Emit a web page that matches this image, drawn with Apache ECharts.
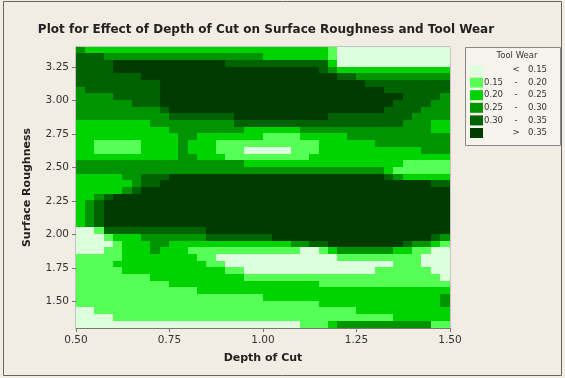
<!DOCTYPE html>
<html>
<head>
<meta charset="utf-8">
<script src="https://cdn.jsdelivr.net/npm/echarts@6/dist/echarts.min.js"></script>
<style>
  html, body { margin: 0; padding: 0; background: #f1ede4; }
  #chart { width: 565px; height: 378px; }
</style>
</head>
<body>
<div id="chart"></div>
<script>
// axis ticks
const depthTicks = [0.5, 0.75, 1.0, 1.25, 1.5]
const roughnessTicks = [1.5, 1.75, 2.0, 2.25, 2.5, 2.75, 3.0, 3.25]

// contour bands (legend)
const wearLow = ['', '0.15', '0.20', '0.25', '0.30', '']
const wearSep = ['<', '-', '-', '-', '-', '>']
const wearHigh = ['0.15', '0.20', '0.25', '0.30', '0.35', '0.35']
const wearColors = ['#ddffdd', '#55ff55', '#00d400', '#009400', '#006200', '#003c00']

// sampling grid of the contour map
const depthStart = 0.5
const depthStep = 0.025
const roughStart = 1.3
const roughStep = 0.05

// band index per cell; top row (3.35-3.40) first, depth 0.50 -> 1.50
const wearRows = [
  '3 22222222222222222222222222 1 000000000000',
  '444 33333333333333333 2222222 1 000000000000',
  '4444 555555555555 44444444444 2 000000000000',
  '4444 5555555555555555555555 4 3 222222222222',
  '4444444 555555555555555555555 44 3333333333',
  '444444444 5555555555555555555555 444444444',
  '3 44444444 555555555555555555555555 4444444',
  '3333 44444 55555555555555555555555555 4444 3',
  '333333 444 5555555555555555555555555 4444 33',
  '333333333 4 55555555555555555555555 4444 333',
  '3333333333 4444444 5555555555 444444444 3333',
  '22222222 333333333 444444444444444444 333 22',
  '2222222222 33333333 222222 33333333333333 22',
  '22222222222 33 2222222 1111 22222 33333333333',
  '22 11111 2222 3 222 11111111111 222222 33333333',
  '22 11111 2222 3 222 111 00000 111 22222222222 333',
  '22222222222 33 222 111111111 222222222222222',
  '333333333333333333 22222222222222222 11111',
  '333333333333333333333333333333333 2 111111',
  '22222 33 444 55555555555555555555555 4 3 22222',
  '222222 3 44 55555555555555555555555555555 44',
  '22222 3 4 555555555555555555555555555555555',
  '22 3 4 555555555555555555555555555555555555',
  '2 3 4 5555555555555555555555555555555555555',
  '2 3 4 5555555555555555555555555555555555555',
  '2 3 4 5555555555555555555555555555555555555',
  '2 3 4 5555555555555555555555555555555555555',
  '00 1 44444444444 55555555555555555555555555',
  '000 1 222 3333333 4444444 55555555555555555 4 3',
  '0000 1 222 33 2222222222222 33 44 55555555 4 33 2 1',
  '000 11 222 3 222 111111111111 00 1 2 333333 22 11 00',
  '11111 22222222 11 0000000000000 111111111 000',
  '1111 2222222222 11 000000000000000000 111 000',
  '11111 22222222222 11 00000000000000 111111 00',
  '11111111 2222222222 111111111111111111111 0',
  '1111111111 2222222222222222 11111111111111',
  '1111111111111 222222222222222222222222222',
  '11111111111111111111 2222222222222222222 3',
  '11111111111111111111111111 2222222222222 3',
  '00 1111111111111111111111111111 2222222222',
  '0000 111111111111111111111111111111 222222',
  '000000000000000000000000 111 2 3333333333 11'
]

const cells = []
wearRows.forEach((row, r) => {
  const codes = row.replace(/ /g, '')
  if (codes.length !== 40) throw new Error('row ' + r + ' has ' + codes.length + ' cells')
  const y = roughStart + roughStep * (wearRows.length - 1 - r) + roughStep / 2
  for (let c = 0; c < codes.length; c++) {
    cells.push([depthStart + depthStep * c + depthStep / 2, y, Number(codes[c])])
  }
})

const chart = echarts.init(document.getElementById('chart'), null, { renderer: 'canvas' })

const font = 'DejaVu Sans'
const legendX = 465
const legendY = 47
const legendItems = []
wearColors.forEach((color, i) => {
  const cy = legendY + 23 + i * 12.6
  legendItems.push(
    { type: 'rect', shape: { x: legendX + 5, y: cy - 5, width: 13, height: 10 }, style: { fill: color } },
    { type: 'text', x: legendX + 38, y: cy, style: { text: wearLow[i], font: '8.5px ' + font, fill: '#333', textAlign: 'right', textVerticalAlign: 'middle' } },
    { type: 'text', x: legendX + 51, y: cy, style: { text: wearSep[i], font: '8.5px ' + font, fill: '#333', textAlign: 'center', textVerticalAlign: 'middle' } },
    { type: 'text', x: legendX + 82, y: cy, style: { text: wearHigh[i], font: '8.5px ' + font, fill: '#333', textAlign: 'right', textVerticalAlign: 'middle' } }
  )
})

const option = {
  backgroundColor: '#f1ede4',
  animation: false,
  title: {
    text: 'Plot for Effect of Depth of Cut on Surface Roughness and Tool Wear',
    left: 261,
    top: 19,
    textAlign: 'center',
    textStyle: { fontFamily: font, fontWeight: 'bold', fontSize: 12, color: '#222' }
  },
  grid: {
    left: 76,
    top: 47,
    width: 374,
    height: 281,
    show: true,
    borderColor: '#999',
    borderWidth: 1,
    backgroundColor: 'transparent'
  },
  xAxis: {
    type: 'value',
    min: 0.5,
    max: 1.5,
    interval: 0.25,
    name: 'Depth of Cut',
    nameLocation: 'middle',
    nameGap: 25,
    nameTextStyle: { fontFamily: font, fontWeight: 'bold', fontSize: 11, color: '#222' },
    axisLine: { show: true, lineStyle: { color: '#777' } },
    axisTick: { show: true, length: 4, lineStyle: { color: '#777' }, customValues: depthTicks },
    axisLabel: { customValues: depthTicks, margin: 7, fontFamily: font, fontSize: 10.5, color: '#333', formatter: v => v.toFixed(2) },
    splitLine: { show: false }
  },
  yAxis: {
    type: 'value',
    min: 1.3,
    max: 3.4,
    name: 'Surface Roughness',
    nameLocation: 'middle',
    nameGap: 43,
    nameTextStyle: { fontFamily: font, fontWeight: 'bold', fontSize: 11, color: '#222' },
    axisLine: { show: true, lineStyle: { color: '#777' } },
    axisTick: { show: true, length: 4, lineStyle: { color: '#777' }, customValues: roughnessTicks },
    axisLabel: { customValues: roughnessTicks, margin: 7, fontFamily: font, fontSize: 10.5, color: '#333', formatter: v => v.toFixed(2) },
    splitLine: { show: false }
  },
  series: [{
    type: 'custom',
    clip: true,
    data: cells,
    renderItem: (params, api) => {
      const x = api.value(0)
      const y = api.value(1)
      const p0 = api.coord([x - depthStep / 2, y + roughStep / 2])
      const p1 = api.coord([x + depthStep / 2, y - roughStep / 2])
      const x0 = Math.floor(p0[0])
      const y0 = Math.floor(p0[1])
      return {
        type: 'rect',
        shape: { x: x0, y: y0, width: Math.ceil(p1[0]) - x0 + 0.5, height: Math.ceil(p1[1]) - y0 + 0.5 },
        style: { fill: wearColors[api.value(2)] }
      }
    }
  }],
  graphic: [
    { type: 'rect', shape: { x: 3.5, y: 1.5, width: 558, height: 374 }, style: { fill: 'none', stroke: '#666', lineWidth: 1 }, silent: true },
    { type: 'rect', shape: { x: legendX + 0.5, y: legendY + 0.5, width: 95, height: 98 }, style: { fill: '#f6f3ec', stroke: '#888', lineWidth: 1 } },
    { type: 'text', x: legendX + 52, y: legendY + 9, style: { text: 'Tool Wear', font: '8.5px ' + font, fill: '#333', textAlign: 'center', textVerticalAlign: 'middle' } }
  ].concat(legendItems)
}

chart.setOption(option)
</script>
</body>
</html>
